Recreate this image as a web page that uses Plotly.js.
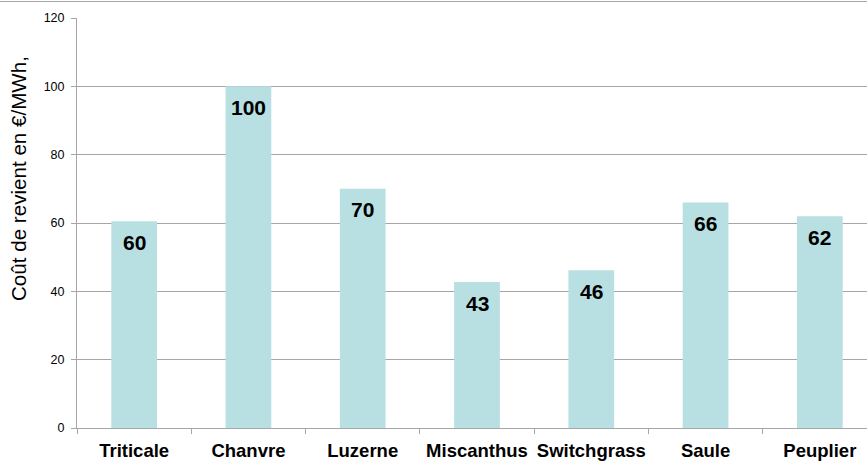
<!DOCTYPE html>
<html>
<head>
<meta charset="utf-8">
<script src="https://cdn.plot.ly/plotly-3.0.1.min.js"></script>
<style>html,body{margin:0;padding:0;background:#fff;overflow:hidden;width:867px;height:461px;}#chart{width:877px;height:461px;}</style>
</head>
<body>
<div id="chart"></div>
<script>
var categories = ["Triticale", "Chanvre", "Luzerne", "Miscanthus", "Switchgrass", "Saule", "Peuplier"];
var costs = [60.5, 100, 70, 42.7, 46.2, 66, 62];
var labels = ["60", "100", "70", "43", "46", "66", "62"];
var yTicks = [0, 20, 40, 60, 80, 100, 120];
var yTitle = "Coût de revient en €/MWh,";

var W = 877, H = 461, mL = 77, mR = 0, mT = 18, mB = 33;
var plotW = W - mL - mR, plotH = H - mT - mB;
var FONT = "Liberation Sans, Arial, sans-serif";

var trace = {
  type: "bar",
  x: categories,
  y: costs,
  marker: {color: "#b8dfe2"},
  hoverinfo: "x+y"
};

var annotations = categories.map(function (c, i) {
  return {
    x: c, y: costs[i], xref: "x", yref: "y",
    text: "<b>" + labels[i] + "</b>",
    showarrow: false, yanchor: "middle", yshift: -21,
    font: {family: FONT, size: 21, color: "#000"}
  };
});

annotations.push({
  xref: "paper", yref: "paper",
  x: (18 - mL) / plotW, y: (H - mB - 179) / plotH,
  xanchor: "center", yanchor: "middle",
  text: yTitle, textangle: -90, showarrow: false,
  font: {family: FONT, size: 20.6, color: "#000"}
});

var layout = {
  width: W, height: H,
  margin: {l: mL, r: mR, t: mT, b: mB, pad: 0},
  paper_bgcolor: "#fff", plot_bgcolor: "#fff",
  showlegend: false,
  bargap: 0.6,
  font: {family: FONT, color: "#000"},
  xaxis: {
    type: "category",
    showgrid: false,
    showline: true, linecolor: "#a6a6a6", linewidth: 1,
    ticks: "outside", tickson: "boundaries", ticklen: 5, tickcolor: "#a6a6a6",
    tickangle: 0,
    ticklabelstandoff: 6,
    tickfont: {family: FONT, size: 18.5, color: "#000", weight: "bold"},
    zeroline: false, fixedrange: true
  },
  yaxis: {
    range: [0, 120],
    tickvals: yTicks,
    showgrid: true, gridcolor: "#a6a6a6", gridwidth: 1,
    showline: true, linecolor: "#a6a6a6", linewidth: 1,
    ticks: "outside", ticklen: 5, tickcolor: "#a6a6a6",
    ticklabelstandoff: 4,
    tickfont: {family: FONT, size: 12.5, color: "#000"},
    zeroline: false, fixedrange: true
  },
  annotations: annotations,
  shapes: [{
    type: "line", xref: "paper", yref: "paper",
    x0: -mL / plotW, x1: 1, y0: 1 + (mT - 1.5) / plotH, y1: 1 + (mT - 1.5) / plotH,
    line: {color: "#a6a6a6", width: 1}
  }]
};

Plotly.newPlot("chart", [trace], layout, {displayModeBar: false, staticPlot: true});
</script>
</body>
</html>
